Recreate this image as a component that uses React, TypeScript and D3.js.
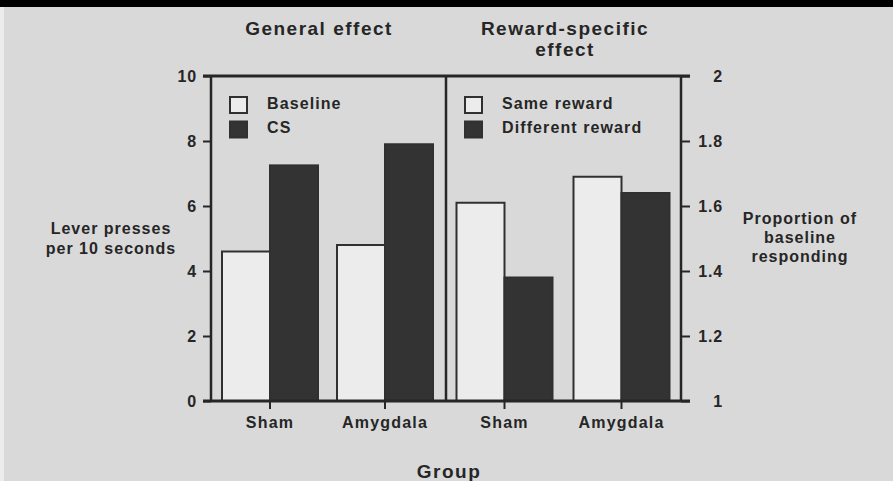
import React, { useEffect, useRef } from 'react'
import * as d3 from 'd3'

const groups = ['Sham', 'Amygdala']

const generalKeys = ['Baseline', 'CS']
const baselineValues = [4.6, 4.8]
const csValues = [7.25, 7.9]

const specificKeys = ['Same reward', 'Different reward']
const sameRewardValues = [1.61, 1.69]
const differentRewardValues = [1.38, 1.64]

const leftTicks = [0, 2, 4, 6, 8, 10]
const rightTicks = [1, 1.2, 1.4, 1.6, 1.8, 2]

const INK = '#262626'
const FONT = '"Liberation Sans", Arial, Helvetica, sans-serif'

export default function App() {
  const svgRef = useRef<SVGSVGElement | null>(null)

  useEffect(() => {
    const svg = d3.select(svgRef.current)
    svg.selectAll('*').remove()

    const W = 893
    const H = 481
    const top = 76
    const bottom = 401
    const xLeft = 211
    const xMid = 446
    const xRight = 681

    // background
    svg.append('rect').attr('width', W).attr('height', H).attr('fill', '#d9d9d9')
    svg.append('rect').attr('width', 4).attr('height', H).attr('fill', '#ececec')
    svg.append('rect').attr('width', W).attr('height', 7).attr('fill', '#000')

    const yL = d3.scaleLinear().domain([0, 10]).range([bottom, top])
    const yR = d3.scaleLinear().domain([1, 2]).range([bottom, top])

    const xGen = d3.scaleBand().domain(groups).range([212.5, 442.5])
    const xSpec = d3.scaleBand().domain(groups).range([446, 680])
    const barsW = 96

    const txt = (g: any) => g.attr('font-family', FONT).attr('font-weight', 'bold').attr('fill', INK)

    // bars
    const drawPanel = (xs: any, keys: string[], series: number[][], y: any) => {
      const sub = d3.scaleBand().domain(keys)
        .range([(xs.bandwidth() - barsW) / 2, (xs.bandwidth() + barsW) / 2])
      groups.forEach((grp, gi) => {
        keys.forEach((k, ki) => {
          const v = series[ki][gi]
          svg.append('rect')
            .attr('x', xs(grp) + sub(k))
            .attr('y', y(v))
            .attr('width', sub.bandwidth())
            .attr('height', y.range()[0] - y(v))
            .attr('fill', ki === 0 ? '#ececec' : '#333333')
            .attr('stroke', '#303030')
            .attr('stroke-width', 2)
        })
      })
      // x ticks + labels
      groups.forEach(grp => {
        const cx = xs(grp) + xs.bandwidth() / 2
        svg.append('line').attr('x1', cx).attr('x2', cx).attr('y1', bottom).attr('y2', bottom + 8)
          .attr('stroke', INK).attr('stroke-width', 2)
        svg.append('text').call(txt)
          .attr('x', cx).attr('y', bottom + 21).attr('dy', '0.35em')
          .attr('text-anchor', 'middle').attr('font-size', 16).attr('letter-spacing', 1.2)
          .text(grp)
      })
    }
    drawPanel(xGen, generalKeys, [baselineValues, csValues], yL)
    drawPanel(xSpec, specificKeys, [sameRewardValues, differentRewardValues], yR)

    // frame lines
    const line = (x1: number, y1: number, x2: number, y2: number, w = 2.5) =>
      svg.append('line').attr('x1', x1).attr('y1', y1).attr('x2', x2).attr('y2', y2)
        .attr('stroke', INK).attr('stroke-width', w)
    line(203, top, 690, top, 3)
    line(203, bottom, 690, bottom, 3)
    line(xLeft, top, xLeft, bottom)
    line(xMid, top, xMid, bottom)
    line(xRight, top, xRight, bottom)

    // left axis
    const leftAxis = svg.append('g').attr('transform', `translate(${xLeft},0)`)
      .call(d3.axisLeft(yL).tickValues(leftTicks).tickSize(8).tickSizeOuter(0).tickPadding(6).tickFormat(d3.format('d')))
    leftAxis.select('.domain').remove()
    leftAxis.selectAll('line').attr('stroke', INK).attr('stroke-width', 2)
    leftAxis.selectAll('text').call(txt).attr('font-size', 16).attr('letter-spacing', 0.8)

    // right axis
    const rightAxis = svg.append('g').attr('transform', `translate(${xRight},0)`)
      .call(d3.axisRight(yR).tickValues(rightTicks).tickSize(9).tickSizeOuter(0).tickPadding(4).tickFormat(d => String(d)))
    rightAxis.select('.domain').remove()
    rightAxis.selectAll('line').attr('stroke', INK).attr('stroke-width', 2)
    rightAxis.selectAll('text').call(txt).attr('font-size', 16).attr('letter-spacing', 0.8)
      .attr('text-anchor', 'end').attr('x', 42)

    // legends
    const legend = (x0: number, keys: string[]) => {
      keys.forEach((k, i) => {
        svg.append('rect').attr('x', x0).attr('y', 97 + i * 24.5).attr('width', 17).attr('height', 16)
          .attr('fill', i === 0 ? '#ececec' : '#333333').attr('stroke', '#303030').attr('stroke-width', 2)
        svg.append('text').call(txt).attr('x', x0 + 37).attr('y', 103 + i * 24.5).attr('dy', '0.35em')
          .attr('font-size', 16).attr('letter-spacing', 1.1).text(k)
      })
    }
    legend(230, generalKeys)
    legend(465, specificKeys)

    // titles
    const title = (x: number, y: number, s: string, size = 19, ls = 1.5) =>
      svg.append('text').call(txt).attr('x', x).attr('y', y).attr('dy', '0.35em')
        .attr('text-anchor', 'middle').attr('font-size', size).attr('letter-spacing', ls).text(s)
    title(319, 28, 'General effect')
    title(565, 28, 'Reward-specific')
    title(565, 49, 'effect')

    title(111, 228, 'Lever presses', 16, 1)
    title(111, 248, 'per 10 seconds', 16, 1)
    title(800, 218, 'Proportion of', 16, 1)
    title(800, 237, 'baseline', 16, 1)
    title(800, 256, 'responding', 16, 1)
    title(449, 471, 'Group', 19, 1.5)
  }, [])

  return (
    <div style={{ position: 'fixed', left: 0, top: 0, width: 893, height: 481 }}>
      <svg ref={svgRef} width={893} height={481} style={{ display: 'block' }} />
    </div>
  )
}
